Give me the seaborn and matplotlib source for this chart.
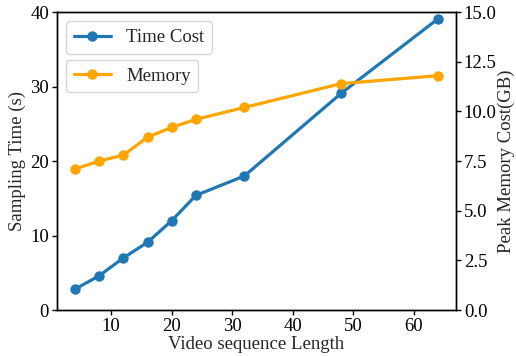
import matplotlib
matplotlib.use("Agg")
import matplotlib.pyplot as plt
import seaborn as sns
import pandas as pd

seq_len = [4, 8, 12, 16, 20, 24, 32, 48, 64]
time_cost = [2.8, 4.6, 7.0, 9.1, 12.0, 15.4, 18.0, 29.1, 39.1]
memory_gb = [7.1, 7.5, 7.8, 8.7, 9.2, 9.6, 10.2, 11.4, 11.8]

df = pd.DataFrame({"len": seq_len, "time": time_cost, "mem": memory_gb})

sns.set_style("ticks")
plt.rcParams["font.family"] = ["Liberation Serif", "DejaVu Serif"]
plt.rcParams["mathtext.fontset"] = "stix"

fig = plt.figure(figsize=(5.16, 3.56), dpi=100)
ax = fig.add_axes([0.110, 0.129, 0.774, 0.837])
ax2 = ax.twinx()

sns.lineplot(data=df, x="len", y="time", ax=ax, color="#1f77b4", marker="o",
             markersize=7.5, markeredgewidth=0, linewidth=2.3, label="Time Cost")
sns.lineplot(data=df, x="len", y="mem", ax=ax2, color="orange", marker="o",
             markersize=7.5, markeredgewidth=0, linewidth=2.3, label="Memory")

ax.set_ylim(0, 40)
ax.set_yticks([0, 10, 20, 30, 40])
ax2.set_ylim(0, 15)
ax2.set_yticks([0, 2.5, 5, 7.5, 10, 12.5, 15])
ax2.set_yticklabels(["0.0", "2.5", "5.0", "7.5", "10.0", "12.5", "15.0"])
ax.set_xticks([10, 20, 30, 40, 50, 60])

fs = 13.5
ax.set_xlabel("Video sequence Length", fontsize=fs, labelpad=1)
ax.set_ylabel("Sampling Time (s)", fontsize=fs, labelpad=3)
ax2.set_ylabel("Peak Memory Cost(GB)", fontsize=fs, labelpad=1)
ax.tick_params(labelsize=fs, colors="black", width=1, length=3.5, pad=2)
ax2.tick_params(labelsize=fs, colors="black", width=1, length=3.5, pad=2)
for a in (ax, ax2):
    for s in a.spines.values():
        s.set_color("black")
        s.set_linewidth(1.0)

leg1 = ax.legend(loc="upper left", bbox_to_anchor=(0.0, 1.0), fontsize=13.5,
                 handlelength=2.0, borderaxespad=0.5)
leg2 = ax2.legend(loc="upper left", bbox_to_anchor=(0.0, 0.87), fontsize=13.5,
                  handlelength=2.0, borderaxespad=0.5)

fig.savefig("out.png", dpi=100)
